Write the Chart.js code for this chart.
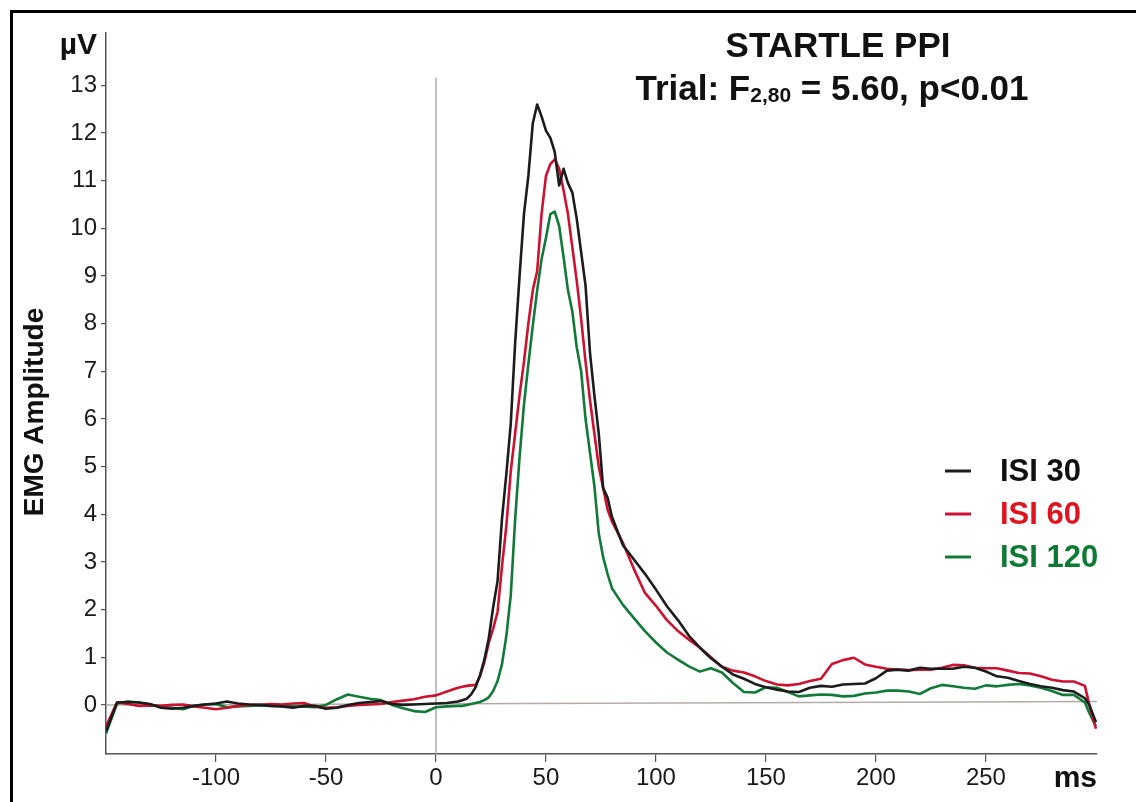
<!DOCTYPE html>
<html lang="en">
<head>
  <meta charset="UTF-8" />
  <title>Startle PPI</title>
  <script src="https://cdn.jsdelivr.net/npm/chart.js"></script>
  <style>
    body {
      margin: 0;
      background: #fff;
      font-family: 'Liberation Sans', Arial, sans-serif;
      overflow: hidden;
    }
    .wrap {
      position: relative;
      width: 1136px;
      height: 802px;
    }
    .frame {
      position: absolute;
      left: 10px;
      top: 10px;
      right: 0;
      bottom: 0;
      border-left: 3px solid #000;
      border-top: 3px solid #000;
      pointer-events: none;
    }
    canvas { display: block; }
  </style>
</head>
<body>
  <div class="wrap">
    <canvas id="ppiChart" width="1136" height="802"></canvas>
    <div class="frame"></div>
  </div>

  <script>
    // time axis (ms) - denser around the startle peak
    const msPoints = [
      -150,-145,-140,-135,-130,-125,-120,-115,-110,-105,-100,-95,-90,-85,-80,-75,-70,-65,-60,-55,
      -50,-45,-40,-35,-30,-25,-20,-15,-10,-5,0,5,10,
      12,14,16,18,20,22,24,26,28,30,32,34,36,38,40,42,44,46,48,50,52,54,56,58,60,62,64,66,68,70,72,74,76,78,80,
      85,90,95,100,105,110,115,120,125,130,135,140,145,150,155,160,165,170,175,180,185,190,195,200,
      205,210,215,220,225,230,235,240,245,250,255,260,265,270,275,280,285,290,295,297,300
    ];

    const isi30 = [
      -0.55,0.05,0.06,0.05,0.02,-0.06,-0.08,-0.06,-0.02,0.01,0.03,0.07,0.03,0.01,0.0,-0.02,-0.03,-0.06,-0.02,-0.02,
      -0.08,-0.06,0.0,0.04,0.06,0.08,0.02,0.0,0.01,0.02,0.03,0.04,0.07,
      0.10,0.13,0.22,0.37,0.62,0.95,1.4,2.05,2.6,3.9,4.85,5.9,7.6,9.0,10.3,11.1,12.2,12.6,12.35,12.05,11.9,11.6,10.9,11.25,10.95,10.75,10.2,9.5,8.8,7.4,6.5,5.7,4.55,4.35,3.95,
      3.35,3.05,2.75,2.42,2.07,1.78,1.45,1.2,0.98,0.8,0.64,0.55,0.44,0.37,0.32,0.28,0.27,0.36,0.4,0.38,0.43,0.44,0.45,0.56,
      0.72,0.74,0.72,0.78,0.76,0.76,0.76,0.8,0.78,0.7,0.6,0.57,0.5,0.44,0.39,0.36,0.31,0.28,0.14,0.0,-0.36
    ];

    const isi60 = [
      -0.45,0.05,0.02,-0.02,-0.01,-0.02,0.0,0.01,-0.03,-0.06,-0.09,-0.06,-0.02,0.0,0.0,0.02,0.01,0.03,0.04,-0.04,
      -0.06,-0.05,-0.02,0.0,0.01,0.02,0.06,0.09,0.12,0.17,0.2,0.28,0.36,
      0.38,0.40,0.41,0.42,0.6,0.9,1.3,1.6,1.95,2.9,3.76,4.9,5.7,6.5,7.2,8.0,8.7,9.1,10.3,11.1,11.35,11.45,11.25,10.8,10.3,9.6,8.9,8.1,7.2,6.4,5.7,5.0,4.55,4.1,3.85,
      3.4,2.85,2.35,2.08,1.78,1.55,1.37,1.2,1.0,0.8,0.72,0.68,0.6,0.5,0.43,0.41,0.44,0.5,0.55,0.86,0.94,0.99,0.85,0.8,
      0.76,0.74,0.73,0.74,0.74,0.78,0.84,0.83,0.78,0.77,0.77,0.72,0.67,0.66,0.6,0.53,0.49,0.49,0.4,0.0,-0.5
    ];

    const isi120 = [
      -0.6,0.03,0.07,0.05,0.01,-0.04,-0.06,-0.09,-0.02,0.01,0.02,-0.05,-0.03,-0.02,-0.01,-0.02,-0.02,-0.03,-0.04,-0.05,
      0.0,0.12,0.22,0.17,0.13,0.1,0.0,-0.07,-0.13,-0.15,-0.05,-0.03,-0.02,
      -0.02,0.0,0.02,0.04,0.06,0.1,0.16,0.29,0.5,0.85,1.45,2.3,3.9,5.2,6.3,7.15,7.95,8.7,9.35,9.8,10.3,10.35,10.05,9.4,8.7,8.25,7.5,7.0,6.0,5.3,4.6,3.6,3.1,2.75,2.45,
      2.1,1.82,1.55,1.31,1.1,0.95,0.81,0.7,0.77,0.68,0.46,0.27,0.26,0.37,0.36,0.27,0.18,0.2,0.22,0.21,0.18,0.19,0.24,0.26,
      0.3,0.3,0.28,0.23,0.35,0.42,0.39,0.36,0.34,0.41,0.39,0.42,0.44,0.41,0.36,0.29,0.21,0.21,0.05,-0.17,-0.45
    ];

    const seriesNames = ['ISI 30', 'ISI 60', 'ISI 120'];
    const seriesColors = ['#1c1c1c', '#cc1230', '#127a38'];
    const legendTextColors = ['#111111', '#e0141e', '#0d7a34'];

    const xTickValues = [-100, -50, 0, 50, 100, 150, 200, 250];
    const yTickValues = [0, 1, 2, 3, 4, 5, 6, 7, 8, 9, 10, 11, 12, 13];

    // grey reference lines (stimulus onset and baseline)
    const onsetLine = [{ x: 0, y: 13.15 }, { x: 0, y: -1.03 }];
    const baseLine = [{ x: -150, y: 0 }, { x: 300.5, y: 0.07 }];

    const FONT = "'Liberation Sans', Arial, sans-serif";

    function toPoints(values) {
      return msPoints.map((t, i) => ({ x: t, y: values[i] }));
    }

    const textPlugin = {
      id: 'ppiText',
      afterDraw(chart) {
        const c = chart.ctx;
        c.save();
        c.fillStyle = '#111';

        // title
        c.textAlign = 'center';
        c.textBaseline = 'alphabetic';
        c.font = 'bold 35px ' + FONT;
        c.fillText('STARTLE PPI', 838, 57);

        const partA = 'Trial: F';
        const partSub = '2,80';
        const partB = ' = 5.60, p<0.01';
        c.font = 'bold 35px ' + FONT;
        const wA = c.measureText(partA).width;
        const wB = c.measureText(partB).width;
        c.font = 'bold 21px ' + FONT;
        const wS = c.measureText(partSub).width;
        let x = 832 - (wA + wS + wB) / 2;
        c.textAlign = 'left';
        c.font = 'bold 35px ' + FONT;
        c.fillText(partA, x, 100);
        x += wA;
        c.font = 'bold 21px ' + FONT;
        c.fillText(partSub, x, 102);
        x += wS;
        c.font = 'bold 35px ' + FONT;
        c.fillText(partB, x, 100);

        // unit labels
        c.font = 'bold 30px ' + FONT;
        c.textAlign = 'right';
        c.textBaseline = 'middle';
        c.fillText('\u00b5V', 97, 46);
        c.fillText('ms', 1097, 779);

        // y axis title
        c.save();
        c.translate(35, 412);
        c.rotate(-Math.PI / 2);
        c.textAlign = 'center';
        c.font = 'bold 28px ' + FONT;
        c.fillText('EMG Amplitude', 0, 0);
        c.restore();

        // legend
        const rows = [471, 514, 557];
        c.textAlign = 'left';
        c.textBaseline = 'middle';
        c.font = 'bold 31px ' + FONT;
        rows.forEach((y, i) => {
          c.strokeStyle = seriesColors[i];
          c.lineWidth = 3;
          c.beginPath();
          c.moveTo(945, y);
          c.lineTo(971, y);
          c.stroke();
          c.fillStyle = legendTextColors[i];
          c.fillText(seriesNames[i], 1000, y + 1);
        });
        c.restore();
      }
    };

    const ctx = document.getElementById('ppiChart').getContext('2d');

    new Chart(ctx, {
      type: 'line',
      data: {
        datasets: [
          { label: seriesNames[0], data: toPoints(isi30), borderColor: seriesColors[0], borderWidth: 2.6 },
          { label: seriesNames[1], data: toPoints(isi60), borderColor: seriesColors[1], borderWidth: 2.6 },
          { label: seriesNames[2], data: toPoints(isi120), borderColor: seriesColors[2], borderWidth: 2.6 },
          { label: 'onset', data: onsetLine, borderColor: '#b3aca6', borderWidth: 1.5 },
          { label: 'baseline', data: baseLine, borderColor: '#b3aca6', borderWidth: 1.5 }
        ]
      },
      options: {
        responsive: false,
        animation: false,
        events: [],
        layout: { padding: { top: 33, right: 39, left: 0, bottom: 0 } },
        elements: {
          point: { radius: 0 },
          line: { tension: 0, fill: false, borderJoinStyle: 'round' }
        },
        plugins: {
          legend: { display: false },
          tooltip: { enabled: false }
        },
        scales: {
          x: {
            type: 'linear',
            min: -150,
            max: 300.5,
            afterFit: s => { s.height = 48; },
            afterBuildTicks: s => { s.ticks = xTickValues.map(v => ({ value: v })); },
            border: { display: true, color: '#555', width: 1.5 },
            grid: { drawOnChartArea: false, drawTicks: true, tickLength: 8, color: '#555', lineWidth: 1.2 },
            ticks: { color: '#1a1a1a', padding: 2, font: { family: FONT, size: 24 }, maxRotation: 0 }
          },
          y: {
            type: 'linear',
            min: -1.03,
            max: 14.1,
            afterFit: s => { s.width = 106; },
            afterBuildTicks: s => { s.ticks = yTickValues.map(v => ({ value: v })); },
            border: { display: true, color: '#555', width: 1.5 },
            grid: { drawOnChartArea: false, drawTicks: true, tickLength: 5, color: '#555', lineWidth: 1.2 },
            ticks: { color: '#1a1a1a', padding: 4, font: { family: FONT, size: 24 } }
          }
        }
      },
      plugins: [textPlugin]
    });
  </script>
</body>
</html>
